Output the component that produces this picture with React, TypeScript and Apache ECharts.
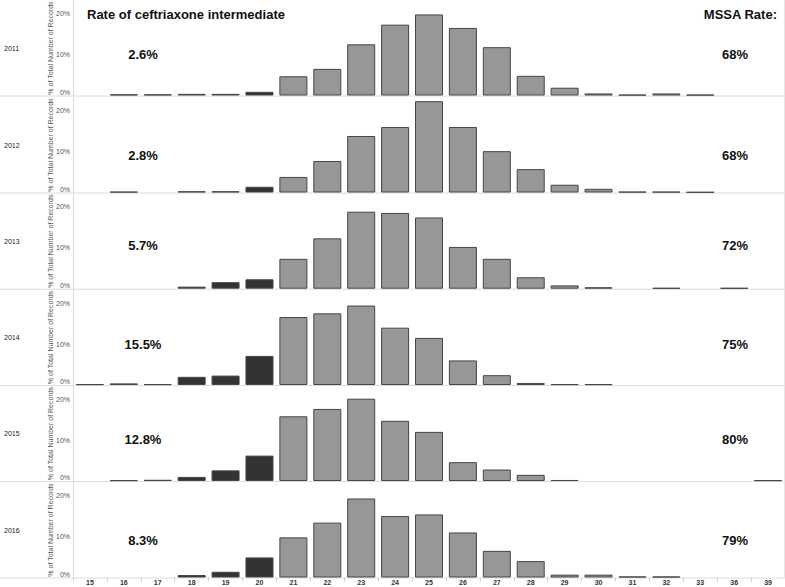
import React, { useEffect, useRef } from "react";
import * as echarts from "echarts";

const categories = [
  "15", "16", "17", "18", "19", "20", "21", "22", "23", "24", "25",
  "26", "27", "28", "29", "30", "31", "32", "33", "36", "39",
];
const years = ["2011", "2012", "2013", "2014", "2015", "2016"];
const darkCategories = ["18", "19", "20"];

// % of total number of records per zone diameter, one array per year
const pct2011 = [null, 0.3, 0.3, 0.4, 0.4, 0.9, 4.7, 6.5, 12.5, 17.3, 19.8, 16.5, 11.8, 4.8, 1.9, 0.5, 0.2, 0.5, 0.2, null, null];
const pct2012 = [null, 0.2, null, 0.3, 0.3, 1.4, 3.8, 7.7, 13.8, 16.0, 22.3, 16.0, 10.1, 5.7, 1.9, 0.9, 0.2, 0.2, 0.1, null, null];
const pct2013 = [null, null, null, 0.5, 1.6, 2.3, 7.3, 12.3, 18.8, 18.5, 17.4, 10.2, 7.3, 2.8, 0.8, 0.35, null, 0.2, null, 0.2, null];
const pct2014 = [0.2, 0.4, 0.2, 2.0, 2.3, 7.1, 16.6, 17.5, 19.4, 14.0, 11.5, 6.0, 2.4, 0.5, 0.2, 0.2, null, null, null, null, null];
const pct2015 = [null, 0.2, 0.3, 1.0, 2.6, 6.2, 15.8, 17.6, 20.1, 14.7, 12.0, 4.6, 2.8, 1.5, 0.25, null, null, null, null, null, 0.2];
const pct2016 = [null, null, null, 0.6, 1.4, 4.9, 9.8, 13.4, 19.3, 15.0, 15.4, 11.0, 6.5, 4.0, 0.7, 0.7, 0.25, 0.25, null, null, null];
const yearValues = [pct2011, pct2012, pct2013, pct2014, pct2015, pct2016];

const intermediateRates = ["2.6%", "2.8%", "5.7%", "15.5%", "12.8%", "8.3%"];
const mssaRates = ["68%", "68%", "72%", "75%", "80%", "79%"];

const FONT = "'Liberation Sans', Arial, sans-serif";
const LEFT = 73;
const PLOT_H = 95;
const Y_MAX = 23.2;
const zeroLines = [95.5, 192.5, 288.7, 385, 481, 577.5];
const rateY = [54, 155.7, 245, 344, 439, 540.7];

const App: React.FC = () => {
  const chartRef = useRef<HTMLDivElement>(null);

  useEffect(() => {
    document.body.style.margin = "0";
    const dom = chartRef.current;
    if (!dom) return;
    const chart = echarts.init(dom, null, { renderer: "svg" });

    const last = years.length - 1;
    const grid = years.map((_, i) => ({
      left: LEFT,
      right: 0,
      top: zeroLines[i] - PLOT_H,
      height: PLOT_H,
      containLabel: false,
      outerBoundsMode: "none",
    }));

    const xAxis = years.map((_, i) => ({
      type: "category" as const,
      gridIndex: i,
      data: categories,
      axisLine: { show: false },
      axisTick: {
        show: i === last,
        length: 4,
        lineStyle: { color: "#cfcfcf" },
      },
      axisLabel: {
        show: i === last,
        interval: 0,
        margin: 1.5,
        fontSize: 7,
        fontWeight: "bold" as const,
        color: "#333",
        fontFamily: FONT,
      },
    }));

    const yAxis = years.map((_, i) => ({
      type: "value" as const,
      gridIndex: i,
      min: 0,
      max: Y_MAX,
      interval: 10,
      name: "% of Total Number of Records",
      nameLocation: "middle" as const,
      nameGap: 19,
      nameMoveOverlap: false,
      nameTextStyle: { fontSize: 7, color: "#555", fontFamily: FONT },
      axisLine: { show: true, lineStyle: { color: "#dcdcdc" } },
      axisTick: { show: false },
      splitLine: { show: false },
      axisLabel: {
        margin: 3,
        fontSize: 7,
        color: "#555",
        fontFamily: FONT,
        verticalAlignMinLabel: "bottom",
        formatter: (v: number) => (v % 10 === 0 ? `${v}%` : ""),
      },
    }));

    const series = years.map((year, i) => ({
      name: year,
      type: "bar" as const,
      xAxisIndex: i,
      yAxisIndex: i,
      barWidth: 28,
      data: yearValues[i].map((v, j) => ({
        value: v,
        itemStyle: {
          color: darkCategories.includes(categories[j]) ? "#333333" : "#979797",
        },
      })),
      itemStyle: { borderColor: "#454545", borderWidth: 1 },
    }));

    const graphic: any[] = [];
    zeroLines.forEach((z) => {
      graphic.push({
        type: "line",
        z: 0,
        shape: { x1: 0, y1: z + 0.5, x2: 785, y2: z + 0.5 },
        style: { stroke: "#dcdcdc", lineWidth: 1 },
      });
    });
    graphic.push({
      type: "line",
      z: 0,
      shape: { x1: 784.5, y1: 0, x2: 784.5, y2: zeroLines[last] },
      style: { stroke: "#e6e6e6", lineWidth: 1 },
    });
    years.forEach((year, i) => {
      const mid = zeroLines[i] - PLOT_H / 2;
      graphic.push({
        type: "text",
        x: 4,
        y: mid,
        style: {
          text: year,
          font: `7px ${FONT}`,
          fill: "#222",
          verticalAlign: "middle",
        },
      });
      graphic.push({
        type: "text",
        x: 143,
        y: rateY[i],
        style: {
          text: intermediateRates[i],
          font: `bold 13px ${FONT}`,
          fill: "#111",
          align: "center",
          verticalAlign: "middle",
        },
      });
      graphic.push({
        type: "text",
        x: 735,
        y: rateY[i],
        style: {
          text: mssaRates[i],
          font: `bold 13px ${FONT}`,
          fill: "#111",
          align: "center",
          verticalAlign: "middle",
        },
      });
    });
    graphic.push({
      type: "text",
      x: 87,
      y: 14,
      style: {
        text: "Rate of ceftriaxone intermediate",
        font: `bold 13px ${FONT}`,
        fill: "#111",
        verticalAlign: "middle",
      },
    });
    graphic.push({
      type: "text",
      x: 777,
      y: 14,
      style: {
        text: "MSSA Rate:",
        font: `bold 13px ${FONT}`,
        fill: "#111",
        align: "right",
        verticalAlign: "middle",
      },
    });

    chart.setOption({
      animation: false,
      backgroundColor: "#fff",
      grid,
      xAxis,
      yAxis,
      series,
      graphic,
    });

    return () => {
      chart.dispose();
    };
  }, []);

  return <div ref={chartRef} style={{ width: 785, height: 587 }} />;
};

export default App;
